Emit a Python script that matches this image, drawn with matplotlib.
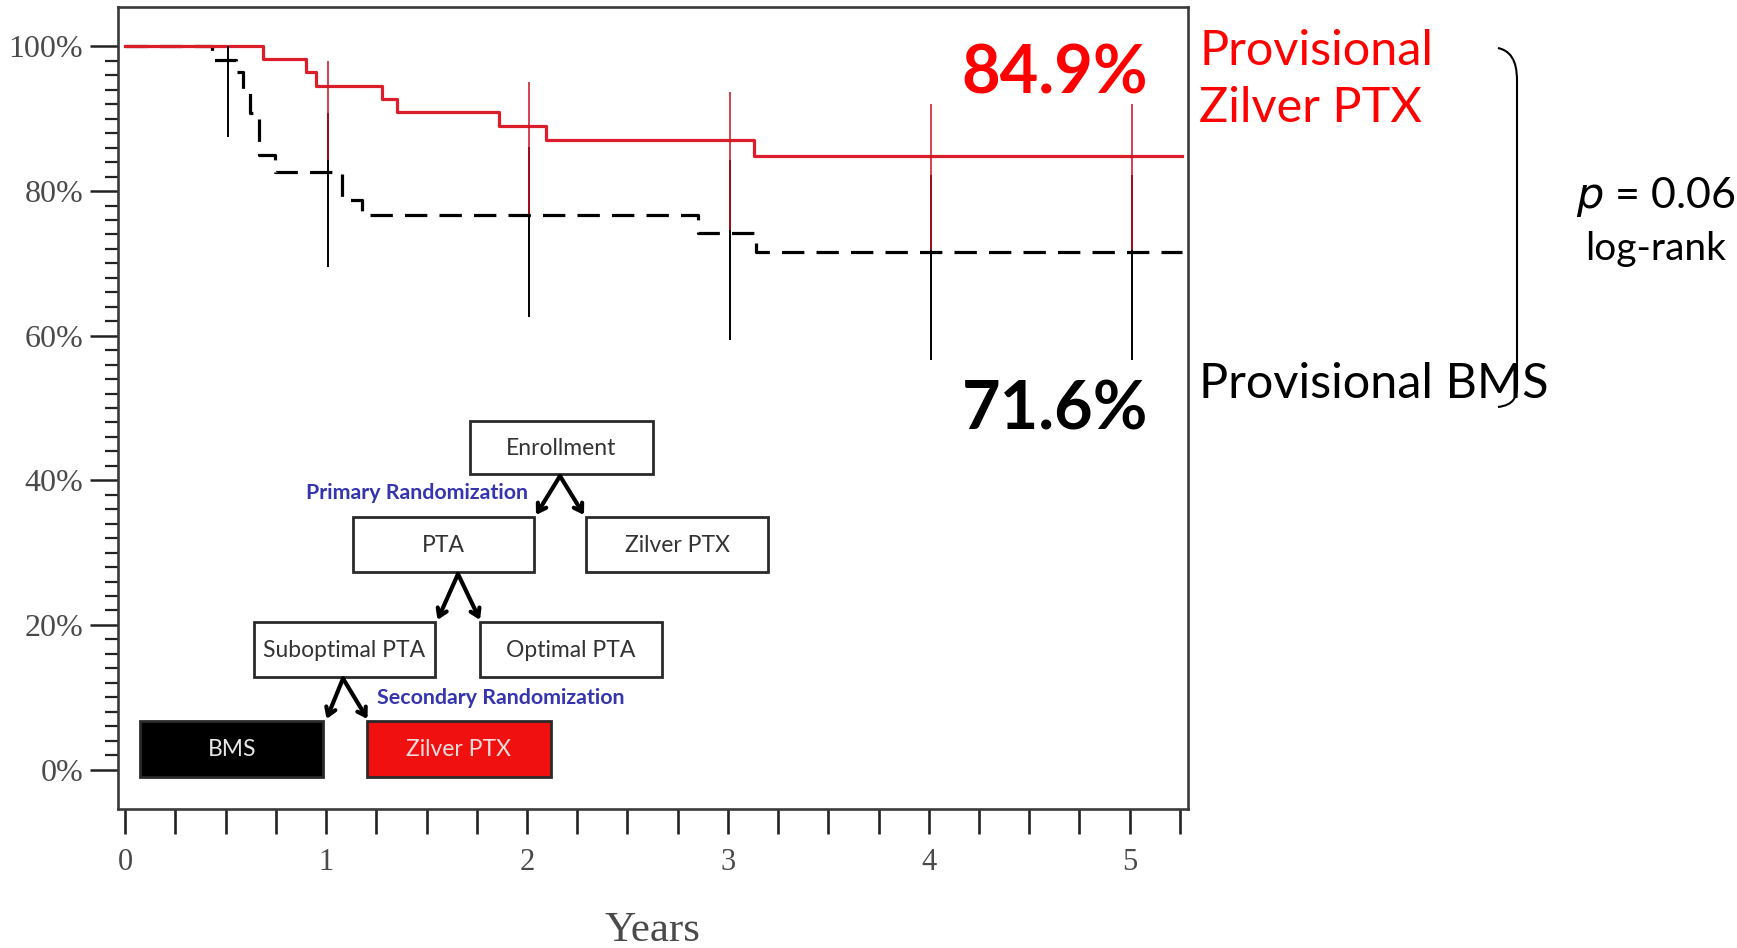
import matplotlib
matplotlib.use("Agg")
import matplotlib.pyplot as plt
from matplotlib.patches import Rectangle, PathPatch
from matplotlib.path import Path
from matplotlib.ticker import FixedLocator, MultipleLocator

# Freedom from target-lesion revascularisation (Kaplan-Meier), percent by year
ptx_years = [0.0, 0.686, 0.90, 0.952, 1.278, 1.353, 1.859, 2.095, 3.13, 5.26]
ptx_surv = [100.0, 98.2, 96.5, 94.5, 92.8, 90.9, 89.0, 87.1, 84.9, 84.9]
bms_years = [0.0, 0.43, 0.55, 0.585, 0.62, 0.665, 0.745, 1.08, 1.18, 2.85, 3.14, 5.26]
bms_surv = [100.0, 98.1, 96.5, 93.5, 90.8, 85.0, 82.7, 78.8, 76.7, 74.2, 71.6, 71.6]

# 95% confidence intervals at the yearly follow-up visits
ptx_ci_years = [1.01, 2.01, 3.01, 4.01, 5.01]
ptx_ci_upper = [98.0, 95.1, 93.7, 92.1, 92.1]
ptx_ci_lower = [84.3, 76.9, 74.6, 71.9, 71.9]
bms_ci_years = [0.51, 1.01, 2.01, 3.01, 4.01, 5.01]
bms_ci_upper = [100.0, 90.8, 86.1, 84.3, 82.2, 82.2]
bms_ci_lower = [87.5, 69.5, 62.6, 59.4, 56.6, 56.6]

year_ticks = [0, 1, 2, 3, 4, 5]
year_labels = ["0", "1", "2", "3", "4", "5"]
pct_ticks = [0, 20, 40, 60, 80, 100]
pct_labels = ["0%", "20%", "40%", "60%", "80%", "100%"]

W, H = 1737, 948
RED_LINE = "#dc1e2a"
RED_TEXT = "#ff0000"
AX_GRAY = "#3a3a3a"
LABEL_GRAY = "#4a4a4a"
SANS = ["Lato", "DejaVu Sans"]
SERIF = ["Liberation Serif", "DejaVu Serif"]

fig = plt.figure(figsize=(W / 100, H / 100), dpi=100)
fig.patch.set_facecolor("white")

# --- survival plot -------------------------------------------------------
ax = fig.add_axes([118 / W, 1 - 809 / H, (1187.7 - 118) / W, (809 - 7) / H])
ax.set_xlim(-0.036, 5.289)
ax.set_ylim(-5.46, 105.46)

ax.step(bms_years, bms_surv, where="post", color="black", lw=2.3,
        dashes=(7.0, 3.8), zorder=3)
ax.step(ptx_years, ptx_surv, where="post", color=RED_LINE, lw=2.3, zorder=4)

ax.vlines(bms_ci_years, bms_ci_lower, bms_ci_upper, color="black", lw=1.4, zorder=5)
ax.vlines(ptx_ci_years, ptx_ci_lower, ptx_ci_upper, color="#c8141e", lw=1.3,
          alpha=0.85, zorder=6)

for s in ax.spines.values():
    s.set_color(AX_GRAY)
    s.set_linewidth(1.9)

ax.set_xticks(year_ticks)
ax.set_xticklabels(year_labels)
ax.xaxis.set_minor_locator(MultipleLocator(0.25))
ax.tick_params(axis="x", which="both", direction="out", length=18, width=1.9,
               color="#222222", pad=10)
ax.set_yticks(pct_ticks)
ax.set_yticklabels(pct_labels)
ax.yaxis.set_minor_locator(FixedLocator(list(range(0, 101, 2))))
ax.tick_params(axis="y", which="major", direction="out", length=20, width=1.8,
               color="#222222", pad=5)
ax.tick_params(axis="y", which="minor", direction="out", length=9.5, width=1.6,
               color="#222222")
for lab in ax.get_xticklabels():
    lab.set_fontfamily(SERIF)
    lab.set_fontsize(22)
    lab.set_color(LABEL_GRAY)
for lab in ax.get_yticklabels():
    lab.set_fontfamily(SERIF)
    lab.set_fontsize(23)
    lab.set_color(LABEL_GRAY)

ax.set_xlabel("Years", fontfamily=SERIF, fontsize=31, color=LABEL_GRAY)
ax.xaxis.set_label_coords(0.5, -0.128)
ax.xaxis.label.set_verticalalignment("top")

# --- annotation layer in pixel space ---------------------------------------
ov = fig.add_axes([0, 0, 1, 1], zorder=10)
ov.set_xlim(0, W)
ov.set_ylim(H, 0)
ov.axis("off")
ov.patch.set_alpha(0)

ov.text(1055, 74, f"{ptx_surv[-1]:.1f}%", color=RED_TEXT, fontsize=48,
        fontweight="bold", family=SANS, ha="center", va="center")
ov.text(1055, 410, f"{bms_surv[-1]:.1f}%", color="black", fontsize=48,
        fontweight="bold", family=SANS, ha="center", va="center")

ov.text(1199, 65, "Provisional", color=RED_TEXT, fontsize=35, family=SANS,
        ha="left", va="baseline")
ov.text(1199, 121.7, "Zilver PTX", color=RED_TEXT, fontsize=35, family=SANS,
        ha="left", va="baseline")
ov.text(1199, 398, "Provisional BMS", color="black", fontsize=35, family=SANS,
        ha="left", va="baseline")

ov.text(1656, 208, "$p$ = 0.06", color="black", fontsize=31, family=SANS,
        ha="center", va="baseline")
ov.text(1656, 260, "log-rank", color="black", fontsize=28, family=SANS,
        ha="center", va="baseline")

brace = Path([(1498, 48), (1516, 52), (1517, 70), (1517, 82),
              (1517, 385),
              (1517, 397), (1514, 405), (1498, 407)],
             [Path.MOVETO, Path.CURVE4, Path.CURVE4, Path.CURVE4,
              Path.LINETO,
              Path.CURVE4, Path.CURVE4, Path.CURVE4])
ov.add_patch(PathPatch(brace, fill=False, lw=1.5, ec="black"))

# --- study design flowchart ------------------------------------------------
boxes = [
    ("Enrollment", 470.4, 420.7, 652.5, 474.0, "white", "#333333"),
    ("PTA", 353.3, 517.3, 534.1, 572.3, "white", "#333333"),
    ("Zilver PTX", 586.2, 517.3, 768.3, 572.3, "white", "#333333"),
    ("Suboptimal PTA", 253.6, 622.3, 435.3, 677.3, "white", "#333333"),
    ("Optimal PTA", 480.0, 622.3, 662.0, 677.3, "white", "#333333"),
    ("BMS", 140.4, 720.7, 323.0, 776.7, "black", "#e6e6e6"),
    ("Zilver PTX", 367.2, 720.7, 550.6, 776.7, "#f01010", "#f8dcdc"),
]
for label, x0, y0, x1, y1, face, tcol in boxes:
    ov.add_patch(Rectangle((x0, y0), x1 - x0, y1 - y0, facecolor=face,
                           edgecolor="#2a2a2a", lw=2.0))
    ov.text((x0 + x1) / 2, (y0 + y1) / 2 + 1, label, color=tcol, fontsize=16.5,
            family=SANS, ha="center", va="center")

forks = [
    ((560.0, 476.0), (536.0, 515.0), (584.0, 515.0)),
    ((458.0, 574.0), (437.5, 620.0), (480.0, 620.0)),
    ((343.0, 678.5), (326.5, 719.0), (367.5, 719.0)),
]
for apex, left, right in forks:
    for tip in (left, right):
        ov.annotate("", xy=tip, xytext=apex,
                    arrowprops=dict(arrowstyle="->,head_length=0.55,head_width=0.35",
                                    lw=3.0, color="black", shrinkA=0, shrinkB=0))

ov.text(416.6, 493.3, "Primary Randomization", color="#3535b0", fontsize=15.4,
        fontweight="bold", family=SANS, ha="center", va="center")
ov.text(501.0, 698.3, "Secondary Randomization", color="#3535b0", fontsize=15.4,
        fontweight="bold", family=SANS, ha="center", va="center")

fig.savefig("out.png", dpi=100, facecolor="white")
